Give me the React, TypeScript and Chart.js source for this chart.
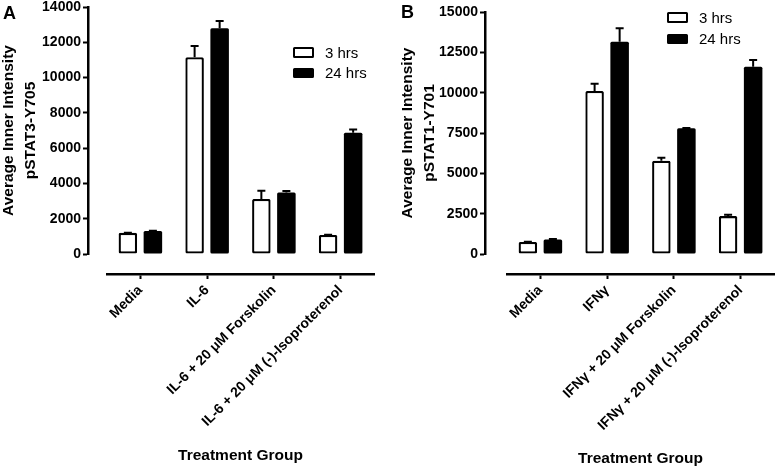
import React, { useEffect, useRef } from "react";
import { Chart, registerables } from "chart.js";

Chart.register(...registerables);

const FONT = "'Liberation Sans', Arial, Helvetica, sans-serif";

// ---- shared ----
const seriesLabels = ["3 hrs", "24 hrs"];
const xTitle = "Treatment Group";

// ---- Panel A ----
const categoriesA = ["Media", "IL-6", "IL-6 + 20 μM Forskolin", "IL-6 + 20 μM (-)-Isoproterenol"];
const hrs3A = [1200, 11150, 3120, 1080];
const hrs3ErrA = [10, 640, 470, 15];
const hrs24A = [1310, 12800, 3480, 6870];
const hrs24ErrA = [10, 400, 90, 190];
const yTicksA = [0, 2000, 4000, 6000, 8000, 10000, 12000, 14000];
const yTitleA = ["Average Inner Intensity", "pSTAT3-Y705"];

// ---- Panel B ----
const categoriesB = ["Media", "IFNγ", "IFNγ + 20 μM Forskolin", "IFNγ + 20 μM (-)-Isoproterenol"];
const hrs3B = [750, 10100, 5780, 2350];
const hrs3ErrB = [10, 450, 190, 80];
const hrs24B = [900, 13150, 7800, 11600];
const hrs24ErrB = [30, 850, 15, 430];
const yTicksB = [0, 2500, 5000, 7500, 10000, 12500, 15000];
const yTitleB = ["Average Inner Intensity", "pSTAT1-Y701"];

const errorBarPlugin = {
  id: "errorBars",
  afterDatasetsDraw(chart: any, _args: any, opts: any) {
    const ctx = chart.ctx;
    const yScale = chart.scales.y;
    const errs = opts.errors || [];
    chart.data.datasets.forEach((ds: any, i: number) => {
      const meta = chart.getDatasetMeta(i);
      const e = errs[i] || [];
      meta.data.forEach((bar: any, j: number) => {
        const v = ds.data[j];
        const err = e[j] || 0;
        const base = yScale.getPixelForValue(v);
        const top = yScale.getPixelForValue(v + err);
        ctx.save();
        ctx.strokeStyle = "#000";
        ctx.lineWidth = 2;
        ctx.beginPath();
        ctx.moveTo(bar.x, base);
        ctx.lineTo(bar.x, top);
        ctx.moveTo(bar.x - 4, top);
        ctx.lineTo(bar.x + 4, top);
        ctx.stroke();
        ctx.restore();
      });
    });
  },
};

type PanelProps = {
  width: number;
  height: number;
  categories: string[];
  v3: number[];
  e3: number[];
  v24: number[];
  e24: number[];
  yTicks: number[];
  yTitle: string[];
  yWidth: number;
  gap: number;
  padTop: number;
  padRight: number;
  xAxisY: number;
  chartBottom: number;
  yTitlePad: number;
  xTitlePad: number;
};

function Panel(p: PanelProps) {
  const ref = useRef<HTMLCanvasElement | null>(null);
  useEffect(() => {
    if (!ref.current) return;
    const tickFont = { family: FONT, size: 14, weight: "bold" as const, lineHeight: 1 };
    const chart = new Chart(ref.current, {
      type: "bar",
      data: {
        labels: p.categories,
        datasets: [
          {
            label: seriesLabels[0],
            data: p.v3,
            backgroundColor: "#ffffff",
            borderColor: "#000000",
            borderWidth: 2.3,
            borderSkipped: false,
            borderRadius: 1.5,
            categoryPercentage: 0.75,
            barPercentage: 0.74,
            xAxisID: "x",
            yAxisID: "y",
          },
          {
            label: seriesLabels[1],
            data: p.v24,
            backgroundColor: "#000000",
            borderColor: "#000000",
            borderWidth: 0,
            borderSkipped: false,
            borderRadius: 1.5,
            categoryPercentage: 0.75,
            barPercentage: 0.74,
            xAxisID: "x",
            yAxisID: "y",
          },
        ],
      },
      options: {
        responsive: false,
        animation: false,
        devicePixelRatio: 1,
        layout: { padding: { left: 0, top: p.padTop, right: p.padRight, bottom: 0 } },
        plugins: {
          legend: { display: false },
          tooltip: { enabled: false },
          errorBars: { errors: [p.e3, p.e24] },
        } as any,
        scales: {
          x: {
            type: "category",
            position: "bottom",
            weight: 1,
            offset: true,
            grid: {
              display: true,
              offset: false,
              drawOnChartArea: false,
              drawTicks: true,
              tickLength: 5,
              tickWidth: 2,
              tickColor: "#000",
            },
            border: { display: true, color: "#000", width: 2.5 },
            ticks: {
              color: "#000",
              font: tickFont,
              minRotation: 45,
              maxRotation: 45,
              autoSkip: false,
              padding: 4,
            },
            title: {
              display: true,
              text: xTitle,
              color: "#000",
              font: { family: FONT, size: 15.5, weight: "bold", lineHeight: 1.2 },
              padding: { top: 0, bottom: p.xTitlePad },
            },
            afterFit: (s: any) => {
              s.height = p.height - p.xAxisY;
              s.paddingLeft = 0;
              s.paddingRight = 0;
            },
          },
          x2: {
            type: "linear",
            position: "bottom",
            weight: 0,
            display: true,
            grid: { display: false },
            border: { display: false },
            ticks: { display: false },
            afterFit: (s: any) => {
              s.height = p.xAxisY - p.chartBottom;
              s.paddingLeft = 0;
              s.paddingRight = 0;
            },
          },
          y: {
            type: "linear",
            position: "left",
            weight: 1,
            min: p.yTicks[0],
            max: p.yTicks[p.yTicks.length - 1],
            afterBuildTicks: (s: any) => {
              s.ticks = p.yTicks.map((v) => ({ value: v }));
            },
            grid: {
              display: true,
              drawOnChartArea: false,
              drawTicks: true,
              tickLength: 5,
              tickWidth: 2,
              tickColor: "#000",
            },
            border: { display: true, color: "#000", width: 2.5 },
            ticks: {
              color: "#000",
              font: tickFont,
              padding: 2,
              callback: (v: any) => String(v),
            },
            title: {
              display: true,
              text: p.yTitle,
              color: "#000",
              font: { family: FONT, size: 15.5, weight: "bold", lineHeight: "22px" },
              padding: { top: p.yTitlePad, bottom: 0 },
            },
            afterFit: (s: any) => {
              s.width = p.yWidth;
              s.paddingTop = 0;
              s.paddingBottom = 0;
            },
          },
          y2: {
            type: "linear",
            position: "left",
            weight: 0,
            display: true,
            grid: { display: false },
            border: { display: false },
            ticks: { display: false },
            afterFit: (s: any) => {
              s.width = p.gap;
              s.paddingTop = 0;
              s.paddingBottom = 0;
            },
          },
        },
      } as any,
      plugins: [errorBarPlugin],
    });
    return () => chart.destroy();
  }, []);
  return <canvas ref={ref} width={p.width} height={p.height} style={{ display: "block" }} />;
}

function Legend({ left, top, rowH }: { left: number; top: number; rowH: number }) {
  const fills = ["#fff", "#000"];
  return (
    <div style={{ position: "absolute", left, top }}>
      {seriesLabels.map((l, i) => (
        <div key={l} style={{ display: "flex", alignItems: "center", height: rowH }}>
          <div
            style={{
              width: 21,
              height: 10.5,
              boxSizing: "border-box",
              border: "2px solid #000",
              borderRadius: 1.5,
              background: fills[i],
              marginRight: 11,
            }}
          />
          <span style={{ fontFamily: FONT, fontSize: 15, lineHeight: 1, color: "#000" }}>{l}</span>
        </div>
      ))}
    </div>
  );
}

export default function App() {
  const letterStyle: React.CSSProperties = {
    position: "absolute",
    fontFamily: FONT,
    fontWeight: "bold",
    fontSize: 18,
    lineHeight: "18px",
    color: "#000",
  };
  return (
    <div
      style={{
        position: "fixed",
        left: 0,
        top: 0,
        width: 777,
        height: 469,
        background: "#fff",
        overflow: "hidden",
      }}
    >
      <div style={{ position: "absolute", left: 0, top: 0 }}>
        <Panel
          width={390}
          height={469}
          categories={categoriesA}
          v3={hrs3A}
          e3={hrs3ErrA}
          v24={hrs24A}
          e24={hrs24ErrA}
          yTicks={yTicksA}
          yTitle={yTitleA}
          yWidth={88}
          gap={19}
          padTop={7}
          padRight={16}
          xAxisY={274}
          chartBottom={254}
          yTitlePad={-2.4}
          xTitlePad={4}
        />
      </div>
      <div style={{ position: "absolute", left: 390, top: 0 }}>
        <Panel
          width={387}
          height={469}
          categories={categoriesB}
          v3={hrs3B}
          e3={hrs3ErrB}
          v24={hrs24B}
          e24={hrs24ErrB}
          yTicks={yTicksB}
          yTitle={yTitleB}
          yWidth={95}
          gap={22}
          padTop={12}
          padRight={3}
          xAxisY={274}
          chartBottom={254}
          yTitlePad={6.4}
          xTitlePad={1.2}
        />
      </div>
      <div style={{ ...letterStyle, left: 3, top: 4 }}>A</div>
      <div style={{ ...letterStyle, left: 401, top: 3 }}>B</div>
      <Legend left={293} top={42} rowH={20.5} />
      <Legend left={667} top={6.5} rowH={21.5} />
    </div>
  );
}
